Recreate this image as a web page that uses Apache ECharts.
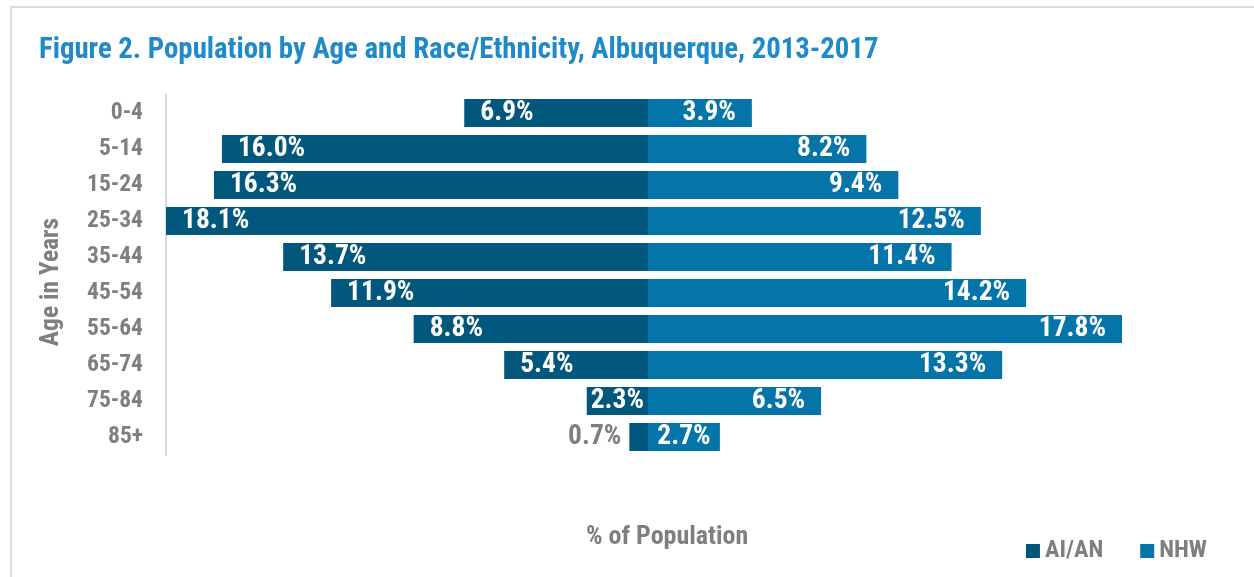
<!DOCTYPE html>
<html>
<head>
<meta charset="utf-8">
<script src="https://cdn.jsdelivr.net/npm/echarts@6/dist/echarts.min.js"></script>
<style>
html,body{margin:0;padding:0;background:#fff;}
#c{width:1254px;height:577px;}
</style>
</head>
<body>
<div id="c"></div>
<script>
const categories = ['0-4','5-14','15-24','25-34','35-44','45-54','55-64','65-74','75-84','85+'];
const aian = [6.9,16.0,16.3,18.1,13.7,11.9,8.8,5.4,2.3,0.7];
const nhw = [3.9,8.2,9.4,12.5,11.4,14.2,17.8,13.3,6.5,2.7];
const seriesNames = ['AI/AN','NHW'];

const FONT = '"Roboto Condensed","Liberation Sans Narrow","DejaVu Sans Condensed",sans-serif';
const GRAY = '#7f7f7f';
const C1 = '#02577c', C2 = '#0574a8';

const chart = echarts.init(document.getElementById('c'));

const aianData = aian.map((v, i) => {
  const d = { value: -v };
  if (v < 1) {
    d.label = { position: 'left', color: GRAY, distance: 8 };
  } else if (v < 3) {
    d.label = { position: 'inside' };
  }
  return d;
});
const nhwData = nhw.map((v) => {
  const d = { value: v };
  if (v < 3) d.label = { position: 'inside' };
  return d;
});

chart.setOption({
  animation: false,
  textStyle: { fontFamily: FONT },
  title: {
    text: 'Figure 2. Population by Age and Race/Ethnicity, Albuquerque, 2013-2017',
    left: 34, top: 31,
    textStyle: { color: '#1f8ac9', fontSize: 28.8, fontWeight: 'bold', fontFamily: FONT }
  },
  graphic: [
    { type: 'rect', shape: { x: 11, y: 7, width: 1400, height: 700 }, style: { fill: 'none', stroke: '#dcdcdc', lineWidth: 2 }, silent: true },
    { type: 'text', left: 586, top: 524, style: { text: '% of Population', fill: GRAY, font: 'bold 26px ' + FONT } }
  ],
  legend: {
    right: 42, bottom: 9,
    itemWidth: 14, itemHeight: 14, itemGap: 37,
    icon: 'rect',
    textStyle: { color: GRAY, fontSize: 24.2, fontWeight: 'bold', fontFamily: FONT },
    data: seriesNames
  },
  grid: { left: 166, right: 124, top: 95, height: 360 },
  xAxis: {
    type: 'value', min: -18.1, max: 18.1,
    show: false
  },
  yAxis: {
    type: 'category', data: categories, inverse: true,
    axisLine: { onZero: false, lineStyle: { color: '#d9d9d9', width: 2 } },
    axisTick: { show: false },
    axisLabel: { color: GRAY, fontSize: 23.5, fontWeight: 'bold', margin: 23, fontFamily: FONT },
    name: 'Age in Years', nameLocation: 'middle', nameGap: 101, nameRotate: 90,
    nameTextStyle: { color: GRAY, fontSize: 25.5, fontWeight: 'bold', fontFamily: FONT, padding: [0, 14, 0, 0] }
  },
  series: [
    {
      name: seriesNames[0], type: 'bar', data: aianData, barWidth: 28, barGap: '-100%',
      itemStyle: { color: C1 },
      label: { show: true, position: 'insideLeft', distance: 16, color: '#fff', fontSize: 27.5, fontWeight: 'bold', fontFamily: FONT,
        formatter: p => Math.abs(p.value).toFixed(1) + '%' }
    },
    {
      name: seriesNames[1], type: 'bar', data: nhwData, barWidth: 28,
      itemStyle: { color: C2 },
      label: { show: true, position: 'insideRight', distance: 16, color: '#fff', fontSize: 27.5, fontWeight: 'bold', fontFamily: FONT,
        formatter: p => p.value.toFixed(1) + '%' }
    }
  ]
});
</script>
</body>
</html>
